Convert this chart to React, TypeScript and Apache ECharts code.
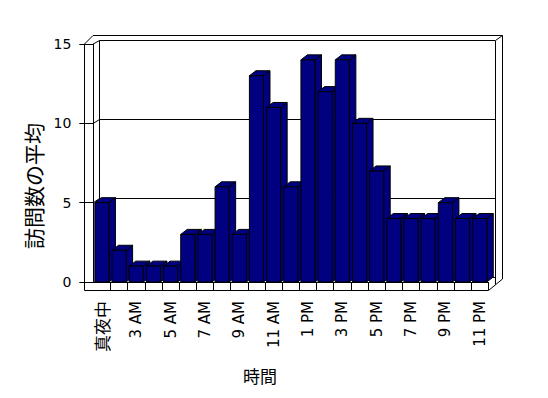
import React, { useEffect, useRef } from 'react';
import * as echarts from 'echarts';

const categories = ['真夜中', '1 AM', '3 AM', '4 AM', '5 AM', '6 AM', '7 AM', '8 AM', '9 AM', '10 AM', '11 AM', '12 PM', '1 PM', '2 PM', '3 PM', '4 PM', '5 PM', '6 PM', '7 PM', '8 PM', '9 PM', '10 PM', '11 PM'];
const visits = [5, 2, 1, 1, 1, 3, 3, 6, 3, 13, 11, 6, 14, 12, 14, 10, 7, 4, 4, 4, 5, 4, 4];
const yMin = 0;
const yMax = 15;
const yStep = 5;
const xTitle = '時間';
const yTitle = '訪問数の平均';

const NAVY = '#000080';
const LINE = '#000000';

export default function App() {
  const ref = useRef<HTMLDivElement>(null);
  useEffect(() => {
    document.body.style.margin = '0';
    const chart = echarts.init(ref.current!, undefined, { renderer: 'svg' });
    const faceStyle = { fill: NAVY, stroke: LINE, lineWidth: 1 };
    const option: any = {
      animation: false,
      backgroundColor: '#ffffff',
      grid: [
        { left: 93.3, top: 44, width: 395, height: 238 },
        { left: 99.5, top: 40.5, width: 395.5, height: 237 },
      ],
      xAxis: [
        {
          type: 'category',
          gridIndex: 0,
          data: categories,
          boundaryGap: true,
          axisLine: { show: true, lineStyle: { color: LINE, width: 1 } },
          axisTick: {
            show: true,
            length: 8,
            interval: (i: number) => i !== 0,
            lineStyle: { color: LINE, width: 1 },
          },
          axisLabel: {
            interval: 1,
            rotate: 90,
            margin: 19,
            color: '#000',
            fontFamily: 'DejaVu Sans',
            fontSize: 15,
            formatter: (v: string) => (/^[\u3000-\u9fff]/.test(v) ? `{cjk|${v}}` : v),
            rich: { cjk: { fontFamily: 'Noto Sans CJK JP', fontSize: 17, color: '#000' } },
          },
          splitLine: { show: false },
        },
        { type: 'category', gridIndex: 1, data: categories, show: false },
      ],
      yAxis: [
        {
          type: 'value',
          gridIndex: 0,
          min: yMin,
          max: yMax,
          interval: yStep,
          axisLine: { show: true, lineStyle: { color: LINE, width: 1 } },
          axisTick: { show: true, length: 14, lineStyle: { color: LINE, width: 1 } },
          axisLabel: { margin: 22, color: '#000', fontFamily: 'DejaVu Sans', fontSize: 14 },
          splitLine: { show: false },
        },
        {
          type: 'value',
          gridIndex: 1,
          min: yMin,
          max: yMax,
          interval: yStep,
          axisLine: { show: false },
          axisTick: { show: false },
          axisLabel: { show: false },
          splitLine: { show: true, lineStyle: { color: LINE, width: 1 } },
        },
      ],
      series: [
        {
          type: 'custom',
          xAxisIndex: 0,
          yAxisIndex: 0,
          data: visits.map((v, i) => [i, v]),
          encode: { x: 0, y: 1 },
          z: 5,
          renderItem: (params: any, api: any) => {
            const idx = api.value(0);
            const v = api.value(1);
            const top = api.coord([idx, v]);
            const base = api.coord([idx, 0]);
            const slot = api.size([1, 0])[0];
            const w = slot * 0.82;
            const x0 = top[0] - w / 2;
            const x1 = top[0] + w / 2;
            const yt = top[1];
            const yb = base[1];
            const dx = 6.5;
            const dy = -5;
            return {
              type: 'group',
              children: [
                {
                  type: 'polygon',
                  shape: { points: [[x1, yb], [x1 + dx, yb + dy], [x1 + dx, yt + dy], [x1, yt]] },
                  style: faceStyle,
                },
                {
                  type: 'polygon',
                  shape: { points: [[x0, yt], [x1, yt], [x1 + dx, yt + dy], [x0 + dx, yt + dy]] },
                  style: faceStyle,
                },
                {
                  type: 'rect',
                  shape: { x: x0, y: yt, width: w, height: yb - yt },
                  style: faceStyle,
                },
              ],
            };
          },
        },
      ],
    };
    chart.setOption(option);

    const lineStyle = { stroke: LINE, lineWidth: 1, fill: 'none' };
    const frame: any[] = [
      {
        type: 'polyline',
        z: 0,
        shape: { points: [[84.5, 44], [84.5, 290.5], [488.5, 290.5], [502.5, 279], [502.5, 35.5], [93, 35.5], [84.5, 44]] },
        style: lineStyle,
      },
      { type: 'line', z: 0, shape: { x1: 495.5, y1: 40.5, x2: 495.5, y2: 284.5 }, style: lineStyle },
      { type: 'line', z: 0, shape: { x1: 495.5, y1: 40.5, x2: 502.5, y2: 35.5 }, style: lineStyle },
      { type: 'line', z: 0, shape: { x1: 99.5, y1: 40.5, x2: 99.5, y2: 277.5 }, style: lineStyle },
    ];
    [yStep, yStep * 2, yMax].forEach((t) => {
      const yf = chart.convertToPixel({ yAxisIndex: 0 }, t) as number;
      const yb = chart.convertToPixel({ yAxisIndex: 1 }, t) as number;
      const xf = chart.convertToPixel({ xAxisIndex: 0 }, 0) as number;
      const slot = (chart.convertToPixel({ xAxisIndex: 0 }, 1) as number) - xf;
      const left = xf - slot / 2;
      frame.push({ type: 'line', z: 0, shape: { x1: left, y1: yf, x2: 99.5, y2: yb }, style: lineStyle });
    });
    frame.push({
      type: 'text',
      x: 33,
      y: 186,
      rotation: Math.PI / 2,
      style: { text: yTitle, align: 'center', verticalAlign: 'middle', fontFamily: 'Noto Sans CJK JP', fontSize: 21, fill: '#000' },
    });
    frame.push({
      type: 'text',
      x: 260,
      y: 375,
      style: { text: xTitle, align: 'center', verticalAlign: 'middle', fontFamily: 'Noto Sans CJK JP', fontSize: 17, fill: '#000' },
    });
    chart.setOption({ graphic: frame });

    return () => chart.dispose();
  }, []);
  return <div ref={ref} style={{ width: 548, height: 398 }} />;
}
